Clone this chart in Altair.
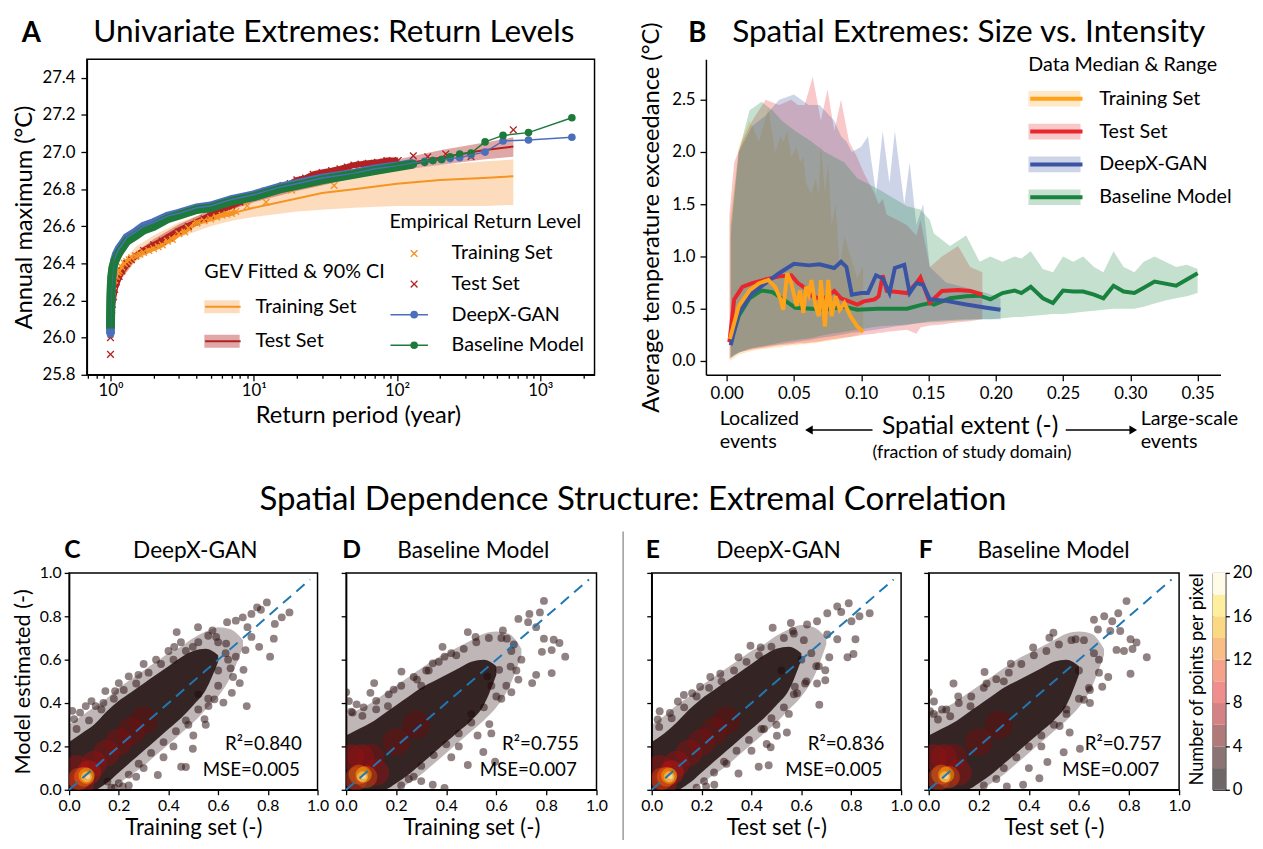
import altair as alt
import pandas as pd

FONT = "Lato"
ORANGE_A = "#f59323"
RED_A = "#b22222"
BLUE_A = "#4c6fbb"
GREEN_A = "#1e7a3a"
ORANGE_B = "#ffa31a"
RED_B = "#e8262b"
BLUE_B = "#3a54a4"
GREEN_B = "#19823f"

# ================= Panel A : return levels =================
fit_T = [1.01, 1.05, 1.1, 1.2, 1.5, 2, 3, 5, 7, 10, 20, 30, 50, 100, 200, 400, 649]
train_fit = [26.10, 26.22, 26.29, 26.36, 26.45, 26.51, 26.58, 26.64, 26.67, 26.70, 26.75, 26.78, 26.80, 26.83, 26.85, 26.86, 26.87]
train_lo = [26.05, 26.17, 26.25, 26.32, 26.41, 26.47, 26.54, 26.60, 26.63, 26.65, 26.68, 26.69, 26.70, 26.71, 26.71, 26.71, 26.715]
train_hi = [26.15, 26.27, 26.33, 26.40, 26.49, 26.55, 26.62, 26.68, 26.72, 26.75, 26.81, 26.84, 26.87, 26.90, 26.93, 26.95, 26.96]
test_fit = [26.05, 26.18, 26.26, 26.34, 26.44, 26.51, 26.59, 26.67, 26.71, 26.75, 26.81, 26.85, 26.89, 26.93, 26.97, 27.01, 27.03]
test_lo = [26.02, 26.15, 26.24, 26.32, 26.42, 26.49, 26.57, 26.65, 26.69, 26.73, 26.79, 26.82, 26.86, 26.90, 26.93, 26.96, 26.975]
test_hi = [26.08, 26.21, 26.28, 26.36, 26.46, 26.53, 26.61, 26.69, 26.73, 26.77, 26.83, 26.87, 26.91, 26.96, 27.01, 27.05, 27.08]

train_T = [1.0, 1.0, 1.005, 1.01, 1.02, 1.03, 1.05, 1.07, 1.1, 1.13, 1.15, 1.2, 1.25, 1.3, 1.35, 1.4, 1.5, 1.6, 1.7, 1.85,
           2.0, 2.15, 2.3, 2.5, 2.7, 3.0, 3.3, 3.5, 4.0, 4.5, 5.0, 5.5, 6.0, 6.5, 7.0, 7.5, 9.0, 12.2, 18.4, 36.4]
train_y = [26.10, 26.12, 26.15, 26.18, 26.22, 26.25, 26.28, 26.31, 26.33, 26.35, 26.36, 26.38, 26.40, 26.41, 26.42, 26.43,
           26.44, 26.45, 26.46, 26.47, 26.48, 26.49, 26.50, 26.52, 26.53, 26.56, 26.57, 26.59, 26.62, 26.63, 26.64, 26.65,
           26.66, 26.665, 26.67, 26.68, 26.71, 26.73, 26.795, 26.82]
test_T = [1.0, 1.0, 1.0, 1.005, 1.01, 1.02, 1.03, 1.05, 1.07, 1.1, 1.15, 1.2, 1.3, 1.4, 1.5, 1.7, 2.0, 2.3, 2.6, 3.0, 3.5,
          4.0, 4.5, 5.0, 6.0, 7.0, 8.0, 9.0, 10, 12, 14, 16, 18, 20, 23, 26, 30, 35, 40, 45, 50, 56, 63, 73, 85, 102, 130,
          164, 219, 329, 649]
test_y = [25.91, 26.00, 26.05, 26.08, 26.10, 26.15, 26.18, 26.22, 26.26, 26.30, 26.33, 26.36, 26.40, 26.42, 26.44, 26.47,
          26.50, 26.52, 26.54, 26.57, 26.60, 26.62, 26.64, 26.66, 26.69, 26.71, 26.73, 26.75, 26.77, 26.79, 26.80, 26.82,
          26.83, 26.85, 26.86, 26.88, 26.89, 26.90, 26.91, 26.92, 26.93, 26.935, 26.94, 26.945, 26.955, 26.955, 26.98,
          26.975, 26.99, 26.975, 27.12]
model_T = [1.0, 1.0, 1.002, 1.005, 1.01, 1.02, 1.04, 1.07, 1.1, 1.15, 1.2, 1.3, 1.5, 1.7, 2.0, 2.5, 3.0, 4.0, 5.0, 7.0,
           10, 15, 20, 30, 50, 70, 100, 130, 156, 178, 205, 235, 274, 329, 412, 550, 828, 1663]
gan_y = [26.02, 26.05, 26.09, 26.15, 26.22, 26.30, 26.37, 26.42, 26.45, 26.48, 26.50, 26.54, 26.57, 26.60, 26.62, 26.655,
         26.67, 26.70, 26.71, 26.745, 26.77, 26.81, 26.83, 26.86, 26.885, 26.91, 26.925, 26.94, 26.95, 26.955, 26.96,
         26.965, 26.97, 26.985, 27.0, 27.06, 27.065, 27.08]
base_y = [26.05, 26.10, 26.14, 26.20, 26.27, 26.33, 26.38, 26.41, 26.43, 26.46, 26.48, 26.52, 26.55, 26.58, 26.60, 26.64,
          26.66, 26.69, 26.70, 26.735, 26.76, 26.80, 26.82, 26.85, 26.88, 26.90, 26.92, 26.935, 26.945, 26.955, 26.96,
          26.975, 26.99, 26.995, 27.055, 27.09, 27.105, 27.185]

A_x_ticks = [0.7, 0.8, 0.9, 1, 2, 3, 4, 5, 6, 7, 8, 9, 10, 20, 30, 40, 50, 60, 70, 80, 90, 100,
             200, 300, 400, 500, 600, 700, 800, 900, 1000, 2000]
A_decades = [1, 10, 100, 1000]
A_decade_labels = ["10⁰", "10¹", "10²", "10³"]
A_y_ticks = [25.8, 26.0, 26.2, 26.4, 26.6, 26.8, 27.0, 27.2, 27.4]

GEV = ["Training Set", "Test Set"]
EMP = ["Training Set", "Test Set", "DeepX-GAN", "Baseline Model"]

# ================= Panel B : size vs intensity =================
tr_x = [0.0024, 0.009, 0.017, 0.024, 0.031, 0.036, 0.040, 0.042, 0.045, 0.048, 0.052, 0.0545, 0.057, 0.059, 0.061, 0.063,
        0.066, 0.0685, 0.070, 0.073, 0.0755, 0.078, 0.081, 0.084, 0.0875, 0.092, 0.097, 0.1015]
tr_med = [0.21, 0.525, 0.675, 0.745, 0.775, 0.71, 0.59, 0.49, 0.84, 0.745, 0.525, 0.675, 0.46, 0.71, 0.64, 0.775, 0.525,
          0.43, 0.775, 0.33, 0.775, 0.43, 0.62, 0.49, 0.555, 0.43, 0.33, 0.28]
tr_lo = [0.0, 0.06, 0.09, 0.11, 0.12, 0.13, 0.13, 0.14, 0.14, 0.15, 0.15, 0.16, 0.16, 0.16, 0.17, 0.17, 0.17, 0.18, 0.18,
         0.19, 0.19, 0.2, 0.2, 0.21, 0.22, 0.23, 0.25, 0.27]
tr_hi = [1.35, 2.05, 2.3, 2.1, 2.42, 2.0, 2.15, 2.1, 2.2, 1.95, 2.05, 1.9, 1.95, 1.7, 1.65, 1.6, 1.75, 1.6, 2.1, 1.6, 1.9,
         1.3, 1.5, 0.9, 1.2, 1.0, 0.8, 0.9]
te_x = [0.002, 0.0056, 0.0117, 0.019, 0.029, 0.039, 0.048, 0.053, 0.058, 0.064, 0.070, 0.075, 0.080, 0.085, 0.091, 0.097,
        0.102, 0.110, 0.113, 0.116, 0.119, 0.127, 0.134, 0.141, 0.144, 0.151, 0.160, 0.172, 0.181, 0.190]
te_med = [0.18, 0.59, 0.71, 0.745, 0.78, 0.81, 0.82, 0.745, 0.70, 0.62, 0.59, 0.62, 0.67, 0.60, 0.57, 0.54, 0.57, 0.59,
          0.62, 0.82, 0.67, 0.66, 0.65, 0.745, 0.80, 0.56, 0.67, 0.68, 0.67, 0.635]
te_lo = [0.02, 0.06, 0.09, 0.11, 0.13, 0.15, 0.16, 0.17, 0.17, 0.18, 0.19, 0.2, 0.21, 0.22, 0.23, 0.24, 0.25, 0.26, 0.27,
         0.27, 0.28, 0.29, 0.3, 0.26, 0.32, 0.34, 0.35, 0.37, 0.38, 0.4]
te_hi = [1.4, 1.9, 2.1, 2.3, 2.5, 2.45, 2.5, 2.45, 2.45, 2.72, 2.3, 2.6, 2.2, 2.5, 2.1, 1.95, 1.8, 1.6, 1.5, 1.55, 1.4,
         1.35, 1.3, 1.2, 1.35, 0.9, 1.0, 1.1, 0.9, 0.85]
gn_x = [0.003, 0.009, 0.019, 0.029, 0.039, 0.050, 0.061, 0.069, 0.080, 0.085, 0.089, 0.093, 0.100, 0.105, 0.111, 0.116,
        0.121, 0.125, 0.132, 0.136, 0.141, 0.146, 0.151, 0.163, 0.178, 0.193, 0.2035]
gn_med = [0.15, 0.46, 0.65, 0.745, 0.84, 0.93, 0.915, 0.925, 0.89, 0.95, 0.90, 0.635, 0.65, 0.65, 0.82, 0.79, 0.65, 0.89,
          0.92, 0.65, 0.745, 0.73, 0.59, 0.575, 0.54, 0.51, 0.49]
gn_lo = [0.03, 0.08, 0.12, 0.14, 0.16, 0.18, 0.2, 0.22, 0.24, 0.25, 0.26, 0.27, 0.28, 0.29, 0.3, 0.31, 0.32, 0.33, 0.34,
         0.35, 0.36, 0.37, 0.38, 0.39, 0.4, 0.4, 0.4]
gn_hi = [1.2, 2.0, 2.25, 2.35, 2.5, 2.55, 2.45, 2.45, 2.3, 2.15, 2.1, 2.0, 2.05, 2.15, 1.6, 2.2, 1.7, 2.2, 1.5, 1.9, 1.3,
         1.5, 0.9, 0.75, 0.7, 0.65, 0.6]
bl_x = [0.003, 0.009, 0.017, 0.026, 0.034, 0.041, 0.051, 0.063, 0.073, 0.0875, 0.097, 0.112, 0.134, 0.144, 0.151, 0.154,
        0.166, 0.178, 0.188, 0.196, 0.205, 0.214, 0.219, 0.226, 0.235, 0.2425, 0.250, 0.2575, 0.265, 0.273, 0.280,
        0.2875, 0.295, 0.303, 0.310, 0.318, 0.326, 0.334, 0.342, 0.350]
bl_med = [0.18, 0.43, 0.60, 0.675, 0.66, 0.60, 0.51, 0.50, 0.49, 0.52, 0.49, 0.50, 0.50, 0.535, 0.555, 0.54, 0.60, 0.62,
          0.625, 0.59, 0.65, 0.675, 0.65, 0.71, 0.60, 0.555, 0.675, 0.665, 0.665, 0.635, 0.60, 0.72, 0.665, 0.65, 0.70,
          0.76, 0.74, 0.72, 0.78, 0.84]
bl_lo = [0.03, 0.08, 0.12, 0.14, 0.16, 0.18, 0.2, 0.22, 0.25, 0.28, 0.3, 0.33, 0.35, 0.36, 0.37, 0.37, 0.38, 0.39, 0.4,
         0.4, 0.41, 0.42, 0.42, 0.43, 0.44, 0.45, 0.45, 0.46, 0.47, 0.48, 0.49, 0.5, 0.5, 0.5, 0.52, 0.55, 0.58, 0.6,
         0.62, 0.65]
bl_hi = [1.3, 2.0, 2.4, 2.48, 2.4, 2.3, 2.2, 2.1, 2.0, 1.9, 1.75, 1.65, 1.48, 1.45, 1.35, 1.22, 1.1, 1.2, 0.95, 1.0,
         0.95, 1.0, 0.98, 1.05, 0.88, 0.85, 1.0, 0.95, 1.0, 0.9, 0.85, 1.05, 0.9, 0.85, 0.95, 1.0, 0.95, 0.9, 0.92, 0.88]
B_x_ticks = [0.0, 0.05, 0.10, 0.15, 0.20, 0.25, 0.30, 0.35]
B_y_ticks = [0.0, 0.5, 1.0, 1.5, 2.0, 2.5]
B_SERIES = ["Training Set", "Test Set", "DeepX-GAN", "Baseline Model"]

# ================= Panels C-F : extremal correlation =================
unit_ticks = [0.0, 0.2, 0.4, 0.6, 0.8, 1.0]
diag = [0.0, 0.97]
band_x = [0.0, 0.05, 0.1, 0.15, 0.2, 0.25, 0.3, 0.35, 0.4, 0.45, 0.5, 0.55, 0.6]
halo_x = [0.0, 0.05, 0.1, 0.15, 0.2, 0.25, 0.3, 0.35, 0.4, 0.45, 0.5, 0.55, 0.6, 0.65, 0.7]

C_pts = [(0.796, 0.864), (0.757, 0.841), (0.772, 0.83), (0.734, 0.811), (0.699, 0.795), (0.671, 0.78), (0.636, 0.773),
         (0.887, 0.818), (0.856, 0.795), (0.828, 0.765), (0.824, 0.697), (0.809, 0.614), (0.765, 0.659), (0.734, 0.705),
         (0.718, 0.75), (0.71, 0.644), (0.702, 0.553), (0.715, 0.386), (0.687, 0.492), (0.655, 0.447), (0.621, 0.402),
         (0.585, 0.417), (0.577, 0.735), (0.592, 0.705), (0.632, 0.674), (0.671, 0.614), (0.519, 0.75), (0.433, 0.727),
         (0.498, 0.659), (0.423, 0.659), (0.545, 0.326), (0.498, 0.189), (0.451, 0.106), (0.47, 0.105), (0.357, 0.068),
         (0.55, 0.3), (0.561, 0.386), (0.02, 0.326), (0.0125, 0.364), (0.044, 0.356), (0.067, 0.386), (0.107, 0.386),
         (0.146, 0.455), (0.185, 0.455), (0.24, 0.523), (0.279, 0.53), (0.2, 0.492), (0.09, 0.409), (0.138, 0.401),
         (0.185, 0.008), (0.216, 0.015), (0.24, 0.02), (0.154, 0.038), (0.6, 0.55), (0.64, 0.6), (0.66, 0.52),
         (0.52, 0.44), (0.48, 0.3), (0.5, 0.25), (0.42, 0.2), (0.38, 0.15), (0.3, 0.1), (0.27, 0.06), (0.35, 0.6),
         (0.3, 0.58), (0.4, 0.64), (0.45, 0.68),
         (0.03, 0.28), (0.08, 0.32), (0.13, 0.37), (0.18, 0.42), (0.22, 0.46), (0.27, 0.49), (0.32, 0.54),
         (0.37, 0.58), (0.42, 0.6), (0.47, 0.64), (0.52, 0.68), (0.56, 0.71), (0.6, 0.68), (0.63, 0.63), (0.65, 0.56),
         (0.6, 0.48), (0.56, 0.42), (0.52, 0.37), (0.47, 0.32), (0.43, 0.27), (0.38, 0.22), (0.33, 0.17), (0.28, 0.12),
         (0.24, 0.07), (0.2, 0.03), (0.17, 0.01)]
C_core_lo = [0.0, 0.0, 0.0, 0.03, 0.08, 0.13, 0.18, 0.23, 0.28, 0.33, 0.39, 0.46, 0.59]
C_core_hi = [0.22, 0.26, 0.30, 0.36, 0.41, 0.45, 0.49, 0.53, 0.57, 0.61, 0.64, 0.65, 0.62]
C_halo_lo = [0.0, 0.0, 0.0, 0.0, 0.03, 0.07, 0.11, 0.16, 0.21, 0.26, 0.31, 0.37, 0.43, 0.52, 0.66]
C_halo_hi = [0.3, 0.34, 0.38, 0.42, 0.47, 0.51, 0.55, 0.59, 0.63, 0.66, 0.70, 0.73, 0.75, 0.74, 0.69]
C_blob = [(0.30, 0.32, 4), (0.25, 0.27, 4.5), (0.2, 0.22, 5), (0.15, 0.17, 5.5), (0.1, 0.12, 6), (0.03, 0.1, 6),
          (0.05, 0.03, 7), (0.08, 0.08, 8), (0.04, 0.05, 10), (0.06, 0.06, 12), (0.07, 0.065, 15), (0.07, 0.06, 18),
          (0.075, 0.06, 20)]

D_pts = [(0.79, 0.871), (0.774, 0.818), (0.732, 0.811), (0.688, 0.788), (0.727, 0.773), (0.759, 0.75), (0.79, 0.697),
         (0.829, 0.692), (0.852, 0.677), (0.821, 0.644), (0.782, 0.636), (0.875, 0.614), (0.821, 0.538), (0.759, 0.53),
         (0.743, 0.492), (0.688, 0.508), (0.626, 0.735), (0.642, 0.697), (0.67, 0.67), (0.657, 0.568), (0.611, 0.553),
         (0.564, 0.523), (0.58, 0.48), (0.486, 0.727), (0.517, 0.705), (0.385, 0.659), (0.393, 0.614), (0.346, 0.583),
         (0.221, 0.545), (0.19, 0.462), (0.112, 0.492), (0.097, 0.447), (0.042, 0.394), (0.011, 0.409), (0.026, 0.356),
         (0.065, 0.341), (0.12, 0.371), (0.167, 0.386), (0.283, 0.508), (0.3, 0.48), (0.548, 0.174), (0.595, 0.129),
         (0.525, 0.25), (0.58, 0.26), (0.486, 0.114), (0.393, 0.008), (0.346, 0.023), (0.3, 0.04), (0.572, 0.303),
         (0.5, 0.35), (0.45, 0.2), (0.42, 0.15), (0.62, 0.42), (0.66, 0.45), (0.7, 0.6), (0.25, 0.05), (0.0, 0.45),
         (0.44, 0.62), (0.33, 0.55),
         (0.02, 0.36), (0.07, 0.38), (0.12, 0.41), (0.17, 0.44), (0.22, 0.48), (0.27, 0.52), (0.32, 0.55),
         (0.37, 0.59), (0.42, 0.63), (0.47, 0.65), (0.52, 0.68), (0.57, 0.7), (0.62, 0.7), (0.66, 0.64), (0.68, 0.55),
         (0.64, 0.48), (0.6, 0.43), (0.55, 0.38), (0.5, 0.31), (0.45, 0.26), (0.4, 0.21), (0.35, 0.16), (0.3, 0.11),
         (0.27, 0.06), (0.22, 0.02)]
D_core_lo = [0.0, 0.0, 0.0, 0.0, 0.03, 0.07, 0.12, 0.17, 0.22, 0.27, 0.32, 0.39, 0.53]
D_core_hi = [0.25, 0.28, 0.31, 0.35, 0.39, 0.43, 0.47, 0.5, 0.53, 0.56, 0.59, 0.6, 0.57]
D_halo_lo = [0.0, 0.0, 0.0, 0.0, 0.0, 0.03, 0.07, 0.12, 0.17, 0.22, 0.27, 0.32, 0.38, 0.47, 0.62]
D_halo_hi = [0.34, 0.37, 0.4, 0.44, 0.48, 0.52, 0.56, 0.6, 0.63, 0.66, 0.69, 0.72, 0.73, 0.72, 0.65]
D_blob = [(0.28, 0.3, 4), (0.2, 0.22, 4.5), (0.1, 0.15, 5), (0.02, 0.15, 6), (0.06, 0.15, 6), (0.12, 0.08, 6),
          (0.04, 0.05, 9), (0.08, 0.06, 10), (0.05, 0.07, 12), (0.07, 0.07, 15), (0.065, 0.06, 18), (0.07, 0.06, 20)]

E_pts = [(0.79, 0.86), (0.744, 0.845), (0.704, 0.814), (0.833, 0.80), (0.874, 0.814), (0.801, 0.777), (0.76, 0.82),
         (0.663, 0.777), (0.623, 0.762), (0.558, 0.769), (0.485, 0.747), (0.566, 0.732), (0.704, 0.716), (0.744, 0.694),
         (0.817, 0.694), (0.809, 0.626), (0.785, 0.611), (0.712, 0.611), (0.67, 0.57), (0.696, 0.551), (0.696, 0.505),
         (0.663, 0.49), (0.615, 0.49), (0.574, 0.475), (0.583, 0.445), (0.672, 0.392), (0.542, 0.264), (0.502, 0.249),
         (0.461, 0.211), (0.477, 0.196), (0.469, 0.113), (0.429, 0.106), (0.348, 0.075), (0.251, 0.023), (0.218, 0.015),
         (0.396, 0.664), (0.437, 0.656), (0.348, 0.611), (0.275, 0.535), (0.235, 0.52), (0.162, 0.445), (0.129, 0.437),
         (0.073, 0.354), (0.032, 0.362), (0.024, 0.324), (0.105, 0.407), (0.194, 0.475), (0.55, 0.35), (0.5, 0.3),
         (0.45, 0.28), (0.6, 0.6), (0.52, 0.55), (0.4, 0.18), (0.3, 0.12),
         (0.03, 0.29), (0.08, 0.33), (0.13, 0.38), (0.18, 0.43), (0.23, 0.47), (0.28, 0.5), (0.33, 0.55),
         (0.38, 0.59), (0.43, 0.62), (0.48, 0.66), (0.53, 0.7), (0.57, 0.72), (0.61, 0.69), (0.64, 0.63), (0.66, 0.57),
         (0.62, 0.5), (0.57, 0.44), (0.53, 0.38), (0.48, 0.33), (0.44, 0.28), (0.39, 0.23), (0.34, 0.18), (0.29, 0.13),
         (0.25, 0.08), (0.21, 0.04), (0.18, 0.01)]
E_core_lo = [0.0, 0.0, 0.0, 0.03, 0.08, 0.13, 0.18, 0.23, 0.28, 0.33, 0.39, 0.46, 0.6]
E_core_hi = [0.22, 0.26, 0.31, 0.37, 0.42, 0.46, 0.5, 0.54, 0.58, 0.62, 0.65, 0.66, 0.63]
E_halo_lo = [0.0, 0.0, 0.0, 0.0, 0.03, 0.07, 0.11, 0.16, 0.21, 0.26, 0.31, 0.37, 0.43, 0.52, 0.67]
E_halo_hi = [0.3, 0.34, 0.39, 0.43, 0.48, 0.52, 0.56, 0.6, 0.64, 0.67, 0.71, 0.74, 0.76, 0.75, 0.7]
E_blob = [(0.30, 0.32, 4), (0.25, 0.27, 4.5), (0.2, 0.22, 5), (0.15, 0.17, 5.5), (0.1, 0.12, 6), (0.03, 0.1, 6),
          (0.05, 0.03, 7), (0.08, 0.08, 8), (0.04, 0.05, 10), (0.06, 0.06, 12), (0.07, 0.065, 15), (0.07, 0.06, 18),
          (0.075, 0.06, 20)]

F_pts = [(0.79, 0.87), (0.757, 0.814), (0.701, 0.80), (0.66, 0.784), (0.733, 0.777), (0.676, 0.739), (0.725, 0.732),
         (0.765, 0.732), (0.806, 0.694), (0.83, 0.679), (0.871, 0.611), (0.814, 0.649), (0.78, 0.64), (0.75, 0.645),
         (0.806, 0.535), (0.717, 0.52), (0.693, 0.475), (0.644, 0.46), (0.62, 0.415), (0.644, 0.4), (0.587, 0.694),
         (0.498, 0.724), (0.482, 0.701), (0.417, 0.656), (0.328, 0.581), (0.223, 0.543), (0.231, 0.49), (0.099, 0.49),
         (0.118, 0.43), (0.053, 0.37), (0.021, 0.407), (0.005, 0.362), (0.037, 0.324), (0.086, 0.339), (0.167, 0.385),
         (0.539, 0.173), (0.604, 0.189), (0.563, 0.264), (0.523, 0.294), (0.474, 0.128), (0.377, 0.023), (0.312, 0.015),
         (0.442, 0.053), (0.55, 0.35), (0.6, 0.55), (0.45, 0.2), (0.4, 0.1), (0.0, 0.45), (0.68, 0.6), (0.3, 0.5),
         (0.02, 0.35), (0.07, 0.37), (0.12, 0.4), (0.17, 0.43), (0.22, 0.47), (0.27, 0.51), (0.32, 0.54),
         (0.37, 0.58), (0.42, 0.62), (0.47, 0.64), (0.52, 0.67), (0.57, 0.69), (0.62, 0.69), (0.66, 0.63), (0.68, 0.54),
         (0.64, 0.47), (0.6, 0.42), (0.55, 0.37), (0.5, 0.3), (0.45, 0.25), (0.4, 0.2), (0.35, 0.15), (0.3, 0.1),
         (0.27, 0.05), (0.22, 0.02)]
F_core_lo = [0.0, 0.0, 0.0, 0.0, 0.03, 0.07, 0.12, 0.17, 0.22, 0.27, 0.32, 0.39, 0.53]
F_core_hi = [0.25, 0.28, 0.31, 0.35, 0.39, 0.43, 0.47, 0.5, 0.53, 0.56, 0.59, 0.6, 0.57]
F_halo_lo = [0.0, 0.0, 0.0, 0.0, 0.0, 0.03, 0.07, 0.12, 0.17, 0.22, 0.27, 0.32, 0.38, 0.47, 0.62]
F_halo_hi = [0.34, 0.37, 0.4, 0.44, 0.48, 0.52, 0.56, 0.6, 0.63, 0.66, 0.69, 0.72, 0.73, 0.72, 0.65]
F_blob = [(0.28, 0.3, 4), (0.2, 0.22, 4.5), (0.1, 0.15, 5), (0.02, 0.15, 6), (0.06, 0.15, 6), (0.12, 0.08, 6),
          (0.04, 0.05, 9), (0.08, 0.06, 10), (0.05, 0.07, 12), (0.07, 0.07, 15), (0.065, 0.06, 18), (0.07, 0.06, 20)]

R2_labels = ["R²=0.840", "R²=0.755", "R²=0.836", "R²=0.757"]
MSE_labels = ["MSE=0.005", "MSE=0.007", "MSE=0.005", "MSE=0.007"]

cb_lo = [0, 2, 4, 6, 8, 10, 12, 14, 16, 18]
cb_hi = [2, 4, 6, 8, 10, 12, 14, 16, 18, 20]
cb_col = ["#6f6767", "#8d7474", "#b07a7b", "#d48283", "#ef8e8c", "#f6a28a", "#f9bd86", "#fbd884", "#fdef9e", "#fffbe6"]
cb_ticks = [0, 4, 8, 12, 16, 20]

XPATH = "M-1,-0.75L-0.75,-1L0,-0.25L0.75,-1L1,-0.75L0.25,0L1,0.75L0.75,1L0,0.25L-0.75,1L-1,0.75L-0.25,0Z"
TRANSP = "rgba(0,0,0,0)"
TITLE_SIZE = 32
SECTION_SIZE = 33.5
LT = 20   # legend title font size
LL = 20   # legend label font size


# ---------------- helpers ----------------
def one():
    return alt.Chart(alt.Data(values=[{"a": 0}]))


def txt(text, x, y, size, weight="normal", align="left", baseline="alphabetic", angle=0):
    return alt.Chart(alt.Data(values=[{"t": text}])).mark_text(
        font=FONT, fontSize=size, fontWeight=weight, align=align, baseline=baseline,
        angle=angle, color="black"
    ).encode(text="t:N", x=alt.value(x), y=alt.value(y))


def hline(x1, x2, y, color="black", w=1.5):
    return one().mark_rule(color=color, strokeWidth=w).encode(x=alt.value(x1), x2=alt.value(x2), y=alt.value(y))


def vline(x, y1, y2, color="black", w=1.5):
    return one().mark_rule(color=color, strokeWidth=w).encode(x=alt.value(x), y=alt.value(y1), y2=alt.value(y2))


def head(x, y, shape):
    return one().mark_point(shape=shape, filled=True, size=80, color="black", opacity=1).encode(
        x=alt.value(x), y=alt.value(y))


def corners(x0, y0, x1, y1):
    """Two invisible points fixing the cell's bounding box (in the panel's pixel frame)."""
    p = one().mark_point(opacity=0, size=1, filled=True)
    return [p.encode(x=alt.value(x0 + 0.6), y=alt.value(y0 + 0.6)),
            p.encode(x=alt.value(x1 - 0.6), y=alt.value(y1 - 0.6))]


def lead():
    """1px wide lead cell, identical at the start of every row, so rows line up by their boxes."""
    return one().mark_point(opacity=0, size=1, filled=True).encode(
        x=alt.value(0.6), y=alt.value(0.6)).properties(width=1, height=1)


LEG = dict(orient="none", direction="vertical", padding=0, titleFont=FONT, labelFont=FONT, titleFontSize=LT,
           labelFontSize=LL, titleFontWeight="normal", labelLimit=400, titleLimit=400)
FRAME = alt.ViewBackground(stroke="black", strokeWidth=1.5)
SUF = " "  # suffix for the twin (symbol-only) legends so they are not merged
NOLAB = "''"

# ---------------- Panel A ----------------
gev_rows = []
for name, fit, lo, hi in [("Training Set", train_fit, train_lo, train_hi), ("Test Set", test_fit, test_lo, test_hi)]:
    for T, f, l, h in zip(fit_T, fit, lo, hi):
        gev_rows.append({"T": T, "fit": f, "lo": l, "hi": h, "gev_band": name, "gev_line": name + SUF})
gev_df = pd.DataFrame(gev_rows)

emp_rows = []
for name, Ts, ys in [("Test Set", test_T, test_y), ("Training Set", train_T, train_y),
                     ("DeepX-GAN", model_T, gan_y), ("Baseline Model", model_T, base_y)]:
    for i, (T, v) in enumerate(zip(Ts, ys)):
        emp_rows.append({"T": T, "v": v, "emp_series": name, "emp_line": name + SUF, "k": i})
emp_df = pd.DataFrame(emp_rows)

dec_expr = "[" + ",".join(str(d) for d in A_decades) + "]"
lab_expr = "[" + ",".join("'" + s + "'" for s in A_decade_labels) + "]"
axA_x = alt.Axis(
    values=A_x_ticks, title="Return period (year)", titleX=275, labelFlush=False, labelOverlap=False,
    labelExpr=f"indexof({dec_expr}, datum.value) >= 0 ? {lab_expr}[indexof({dec_expr}, datum.value)] : ''",
    tickSize={"condition": {"test": f"indexof({dec_expr}, datum.value) >= 0", "value": 6}, "value": 3.5},
    labelPadding=2, titlePadding=5, titleFontSize=24, labelFontSize=17,
)
axA_y = alt.Axis(values=A_y_ticks, format=".1f", title="Annual maximum (°C)", tickSize=6, labelPadding=6,
                 titleFontSize=24, titlePadding=6, labelFontSize=17)
scA_x = alt.Scale(type="log", domain=[0.684, 2394], nice=False)
scA_y = alt.Scale(domain=[25.8, 27.5], nice=False, zero=False)
xA = alt.X("T:Q", scale=scA_x, axis=axA_x)

GEV_Y = 206
gev_band = alt.Chart(gev_df).mark_area(opacity=0.4, clip=True).encode(
    x=xA, y=alt.Y("lo:Q", scale=scA_y, axis=axA_y), y2="hi:Q",
    fill=alt.Fill("gev_band:N", scale=alt.Scale(domain=GEV, range=["#f9a75a", RED_A]),
                  legend=alt.Legend(title="GEV Fitted & 90% CI", legendX=119, legendY=GEV_Y,
                                    symbolType="M-1,-0.36H1V0.36H-1Z", symbolSize=1296, symbolStrokeWidth=0,
                                    clipHeight=33, rowPadding=2, titlePadding=8.5, labelOffset=16, **LEG)),
)
gev_line = alt.Chart(gev_df).mark_line(strokeWidth=2, clip=True).encode(
    x=xA, y=alt.Y("fit:Q", scale=scA_y, axis=axA_y),
    stroke=alt.Stroke("gev_line:N", scale=alt.Scale(domain=[g + SUF for g in GEV], range=[ORANGE_A, RED_A]),
                      legend=alt.Legend(title=None, legendX=119, legendY=GEV_Y + LT + 8.5,
                                        symbolType="M-1,0H1", symbolSize=1296, symbolStrokeWidth=2,
                                        clipHeight=33, rowPadding=2, labelOffset=16, labelExpr=NOLAB, **LEG)),
)


def thick(name, tmax, color, w):
    return alt.Chart(emp_df).transform_filter(
        (alt.datum.emp_series == name) & (alt.datum.T <= tmax) & (alt.datum.v > 25.95)
    ).mark_line(color=color, strokeWidth=w, clip=True).encode(
        x=xA, y=alt.Y("v:Q", scale=scA_y, axis=axA_y), order="k:Q")


EMP_Y = 155
emp_pts_legend = alt.Legend(title=None, legendX=322, legendY=EMP_Y + LT + 7.5, symbolSize=60,
                            clipHeight=29, rowPadding=2, labelOffset=28, **LEG)
emp_pts = alt.Chart(emp_df).mark_point(filled=True, opacity=1, size=60, clip=True).encode(
    x=xA, y=alt.Y("v:Q", scale=scA_y, axis=axA_y),
    color=alt.Color("emp_series:N", scale=alt.Scale(domain=EMP, range=[ORANGE_A, RED_A, BLUE_A, GREEN_A]),
                    legend=emp_pts_legend),
    shape=alt.Shape("emp_series:N", scale=alt.Scale(domain=EMP, range=[XPATH, XPATH, "circle", "circle"]),
                    legend=emp_pts_legend),
)
emp_lines = alt.Chart(emp_df).transform_filter(
    (alt.datum.emp_series == "DeepX-GAN") | (alt.datum.emp_series == "Baseline Model")
).mark_line(strokeWidth=1.5, clip=True).encode(
    x=xA, y=alt.Y("v:Q", scale=scA_y, axis=axA_y), order="k:Q",
    stroke=alt.Stroke("emp_line:N", scale=alt.Scale(domain=[e + SUF for e in EMP],
                                                    range=[TRANSP, TRANSP, BLUE_A, GREEN_A]),
                      legend=alt.Legend(title="Empirical Return Level", legendX=307, legendY=EMP_Y,
                                        symbolType="M-1,0H1", symbolSize=1444, symbolStrokeWidth=1.5,
                                        clipHeight=29, rowPadding=2, titlePadding=7.5, labelOffset=28,
                                        labelExpr=NOLAB, **LEG)),
)

cellA = alt.layer(
    gev_band, gev_line,
    thick("Test Set", 110, RED_A, 6), thick("Training Set", 7.6, ORANGE_A, 5),
    emp_pts,
    thick("DeepX-GAN", 150, BLUE_A, 9), thick("Baseline Model", 150, GREEN_A, 9),
    emp_lines,
    txt("A", -66, -18, 28, weight="bold"),
    txt("Univariate Extremes: Return Levels", 250.5, -18, TITLE_SIZE, align="center"),
    *corners(-77, -45, 544, 417),
).resolve_scale(stroke="independent").properties(width=515, height=320, view=FRAME)

# ---------------- Panel B ----------------
b_rows = []
for name, xs, md, lo, hi in [("Training Set", tr_x, tr_med, tr_lo, tr_hi), ("Test Set", te_x, te_med, te_lo, te_hi),
                             ("DeepX-GAN", gn_x, gn_med, gn_lo, gn_hi), ("Baseline Model", bl_x, bl_med, bl_lo, bl_hi)]:
    for i, (x, m, l, h) in enumerate(zip(xs, md, lo, hi)):
        b_rows.append({"x": x, "med": m, "lo": l, "hi": h, "band_series": name, "line_series": name + SUF, "k": i})
b_df = pd.DataFrame(b_rows)
line_order = ["Baseline Model", "Test Set", "DeepX-GAN", "Training Set"]
b_lines_df = pd.concat([b_df[b_df.band_series == s] for s in line_order])

scB_x = alt.Scale(domain=[-0.0154, 0.367], nice=False, zero=False)
scB_y = alt.Scale(domain=[-0.132, 2.887], nice=False, zero=False)
axB_x = alt.Axis(values=B_x_ticks, format=".2f", title=None, tickSize=6, labelPadding=5, labelFlush=False,
                 labelOverlap=False, labelFontSize=17)
axB_y = alt.Axis(values=B_y_ticks, format=".1f", title="Average temperature exceedance (°C)", tickSize=6,
                 labelPadding=5, titleFontSize=24, titlePadding=8, labelFontSize=17)
B_COL = [ORANGE_B, RED_B, BLUE_B, GREEN_B]

B_Y = -4
b_band = alt.Chart(b_df).mark_area(opacity=0.25, clip=True).encode(
    x=alt.X("x:Q", scale=scB_x, axis=axB_x), y=alt.Y("lo:Q", scale=scB_y, axis=axB_y), y2="hi:Q",
    fill=alt.Fill("band_series:N", scale=alt.Scale(domain=B_SERIES, range=B_COL),
                  legend=alt.Legend(title="Data Median & Range", legendX=327, legendY=B_Y,
                                    symbolType="M-1,-0.3H1V0.3H-1Z", symbolSize=2809, symbolStrokeWidth=0,
                                    clipHeight=31, rowPadding=2.3, titlePadding=8.5, labelOffset=19, **LEG)),
)
b_line = alt.Chart(b_lines_df).mark_line(strokeWidth=4, clip=True).encode(
    x=alt.X("x:Q", scale=scB_x, axis=axB_x), y=alt.Y("med:Q", scale=scB_y, axis=axB_y), order="k:Q",
    stroke=alt.Stroke("line_series:N", scale=alt.Scale(domain=[s + SUF for s in B_SERIES], range=B_COL),
                      legend=alt.Legend(title=None, legendX=327, legendY=B_Y + LT + 8.5,
                                        symbolType="M-1,0H1", symbolSize=2809, symbolStrokeWidth=4,
                                        clipHeight=31, rowPadding=2.3, labelOffset=19, labelExpr=NOLAB, **LEG)),
)
cellB = alt.layer(
    b_band, b_line,
    txt("B", -18, -18, 28, weight="bold"),
    txt("Spatial Extremes: Size vs. Intensity", 266.6, -18, TITLE_SIZE, align="center"),
    txt("Localized", 14, 365, 20, baseline="middle"),
    txt("events", 14, 388, 20, baseline="middle"),
    hline(104, 169, 376), head(104.5, 376, "triangle-left"),
    txt("Spatial extent (-)", 268, 372, 25, align="center", baseline="middle"),
    txt("(fraction of study domain)", 270, 399, 18, align="center", baseline="middle"),
    hline(365, 434, 376), head(433.5, 376, "triangle-right"),
    txt("Large-scale", 441, 365, 20, baseline="middle"),
    txt("events", 441, 388, 20, baseline="middle"),
    *corners(-83, -45, 549, 417),
).properties(width=522, height=320)

# ---------------- section title row ----------------
cellTitle = alt.layer(
    txt("Spatial Dependence Structure: Extremal Correlation", 632, 39, SECTION_SIZE, align="center"),
    *corners(0, 0, 1253, 55),
).properties(width=1253, height=55)


# ---------------- Panels C-F ----------------
def scatter_cell(letter, title, letter_dx, title_cx, width, pts, core_lo, core_hi, halo_lo, halo_hi, blob,
                 xtitle, r2, mse, show_y, box, extras=()):
    sc = alt.Scale(domain=[0, 1], nice=False)
    ax_x = alt.Axis(values=unit_ticks, format=".1f", title=xtitle, tickSize=5, labelPadding=3, labelFlush=False,
                    labelOverlap=False, titleFontSize=22.5, titlePadding=3, labelFontSize=16)
    ax_y = alt.Axis(values=unit_ticks, format=".1f", title="Model estimated (-)" if show_y else None,
                    labels=show_y, tickSize=5, labelPadding=3, labelFlush=False, labelOverlap=False,
                    titleFontSize=22, titlePadding=5, labelFontSize=16)
    X = lambda f: alt.X(f, scale=sc, axis=ax_x)
    Y = lambda f: alt.Y(f, scale=sc, axis=ax_y)
    halo_df = pd.DataFrame({"x": halo_x, "lo": halo_lo, "hi": halo_hi})
    core_df = pd.DataFrame({"x": band_x, "lo": core_lo, "hi": core_hi})
    pts_df = pd.DataFrame(pts, columns=["x", "y"])
    blob_df = pd.DataFrame(blob, columns=["x", "y", "d"])
    diag_df = pd.DataFrame({"x": diag, "y": diag})
    layers = [
        alt.Chart(halo_df).mark_area(color="#2b0f0f", opacity=0.3, clip=True, interpolate="monotone").encode(
            x=X("x:Q"), y=Y("lo:Q"), y2="hi:Q"),
        alt.Chart(pts_df).mark_circle(color="#2b0f0f", opacity=0.52, size=64, clip=True).encode(
            x=X("x:Q"), y=Y("y:Q")),
        alt.Chart(core_df).mark_area(color="#1c0b0b", opacity=0.85, clip=True, interpolate="monotone").encode(
            x=X("x:Q"), y=Y("lo:Q"), y2="hi:Q"),
        alt.Chart(blob_df).mark_circle(opacity=0.45, clip=True).encode(
            x=X("x:Q"), y=Y("y:Q"),
            color=alt.Color("d:Q", scale=alt.Scale(domain=[4, 8, 12, 16, 20],
                                                   range=["#6a0c0c", "#c81414", "#f26a10", "#ffd21a", "#fffff0"]),
                            legend=None),
            size=alt.Size("d:Q", scale=alt.Scale(domain=[4, 20], range=[800, 25]), legend=None)),
        alt.Chart(diag_df).mark_line(color="#1f77b4", strokeWidth=2, strokeDash=[11, 7]).encode(
            x=X("x:Q"), y=Y("y:Q")),
        txt(r2, 236, 180, 19, align="right"),
        txt(mse, 234, 206, 19, align="right"),
        txt(letter, letter_dx, -15, 25, weight="bold"),
        txt(title, title_cx, -15, 23, align="center"),
    ] + list(extras) + corners(*box)
    return alt.layer(*layers).properties(width=width, height=220, view=FRAME)


cellC = scatter_cell("C", "DeepX-GAN", -5, 128, 252, C_pts, C_core_lo, C_core_hi, C_halo_lo, C_halo_hi, C_blob,
                     "Training set (-)", R2_labels[0], MSE_labels[0], True, (-59, -47, 266, 273))
cellD = scatter_cell("D", "Baseline Model", -4, 129, 254, D_pts, D_core_lo, D_core_hi, D_halo_lo, D_halo_hi,
                     D_blob, "Training set (-)", R2_labels[1], MSE_labels[1], False, (-13, -47, 277, 273))
cellE = scatter_cell("E", "DeepX-GAN", -6, 128.6, 253, E_pts, E_core_lo, E_core_hi, E_halo_lo, E_halo_hi, E_blob,
                     "Test set (-)", R2_labels[2], MSE_labels[2], False, (-31, -47, 266, 273),
                     extras=[vline(-29, -42, 271, color="#999999", w=1.5)])
cellF = scatter_cell("F", "Baseline Model", -10, 126.6, 254, F_pts, F_core_lo, F_core_hi, F_halo_lo, F_halo_hi,
                     F_blob, "Test set (-)", R2_labels[3], MSE_labels[3], False, (-13, -47, 282, 273),
                     extras=[txt("Number of points per pixel", 272, 108, 18.5, align="center", baseline="middle",
                                 angle=270)])

cb_df = pd.DataFrame({"lo": cb_lo, "hi": cb_hi, "col": cb_col})
cellCbar = alt.layer(
    alt.Chart(cb_df).mark_rect().encode(
        x=alt.value(0), x2=alt.value(13),
        y=alt.Y("lo:Q", scale=alt.Scale(domain=[0, 20], nice=False),
                axis=alt.Axis(orient="right", values=cb_ticks, title=None, tickSize=4, labelPadding=3,
                              domain=False, labelFontSize=17)),
        y2="hi:Q", color=alt.Color("col:N", scale=None)),
    *corners(-4, -47, 42, 273),
).properties(width=13, height=220, view=alt.ViewBackground(stroke="black", strokeWidth=1))

# ---------------- layout (cells tile the page exactly) ----------------
IND = dict(color="independent", fill="independent", stroke="independent", shape="independent",
           size="independent")
row1 = alt.hconcat(lead(), cellA, cellB, spacing=0).resolve_scale(**IND)
rowT = alt.hconcat(lead(), cellTitle, spacing=0)
row2 = alt.hconcat(lead(), cellC, cellD, cellE, cellF, cellCbar, spacing=0).resolve_scale(**IND)
chart = alt.vconcat(row1, rowT, row2, spacing=0).resolve_scale(**IND).properties(padding=0).configure(
    font=FONT).configure_view(stroke=None).configure_axis(
    labelFont=FONT, titleFont=FONT, labelColor="black", titleColor="black", tickColor="black",
    domainColor="black", titleFontWeight="normal", grid=False, labelFontSize=16, titleFontSize=22,
    domainWidth=1.5, tickWidth=1.3
)

chart.save("out.html", embed_options={"renderer": "svg", "actions": False})
